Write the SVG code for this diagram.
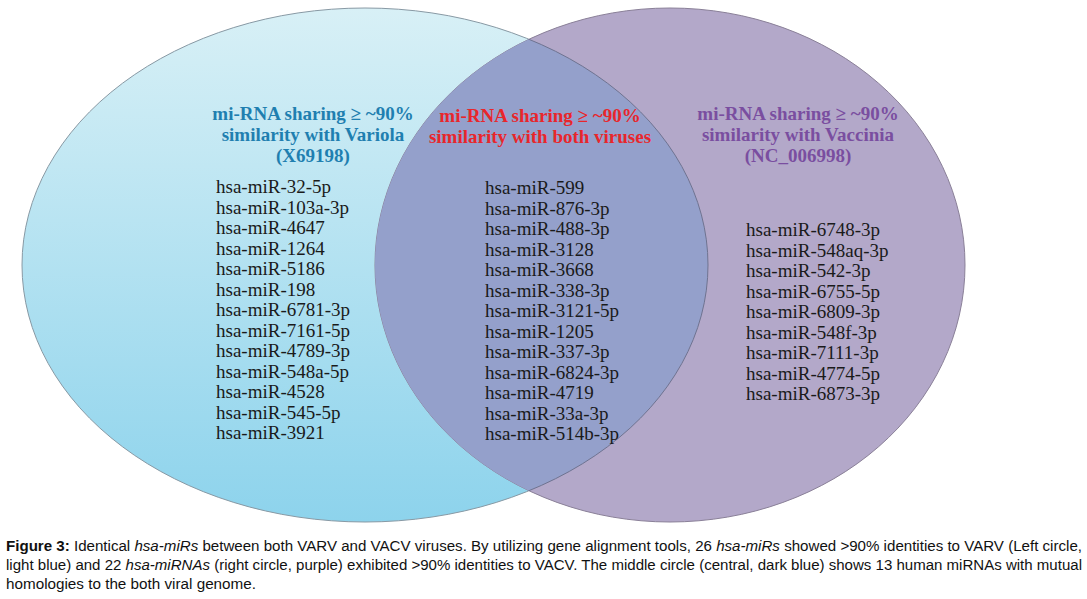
<svg xmlns="http://www.w3.org/2000/svg" width="1087" height="599" viewBox="0 0 1087 599">
<style>
.t{font-family:"Liberation Serif",serif;font-size:19px;font-weight:bold;text-anchor:middle}
.m{font-family:"Liberation Serif",serif;font-size:19px;fill:#1a1a1a}
.c{font-family:"Liberation Sans",sans-serif;font-size:14px;fill:#111}
</style>
<defs>
<linearGradient id="g" x1="0" y1="0" x2="0" y2="1"><stop offset="0" stop-color="#d8f0f6"/><stop offset="1" stop-color="#8dd3ec"/></linearGradient>
<clipPath id="cr"><ellipse cx="670" cy="265" rx="295" ry="257"/></clipPath>
</defs>
<rect width="1087" height="599" fill="#fff"/>
<g id="left"><ellipse cx="365" cy="265" rx="343" ry="257" fill="url(#g)" stroke="#8899a4" stroke-width="1"/></g>
<g id="right"><ellipse cx="670" cy="265" rx="295" ry="257" fill="#b3a8c9" stroke="#8a8098" stroke-width="1"/></g>
<g id="both"><ellipse cx="365" cy="265" rx="343" ry="257" fill="#94a0cb" stroke="#6f7390" stroke-width="1" clip-path="url(#cr)"/></g>
<g id="connectors"/>
<g id="labels-left">
<text class="t" fill="#1f7fb0"><tspan x="313" y="120">mi-RNA sharing ≥ ~90%</tspan><tspan x="313" y="141">similarity with Variola</tspan><tspan x="313" y="162">(X69198)</tspan></text>
<text class="m"><tspan x="216" y="193">hsa-miR-32-5p</tspan><tspan x="216" y="213.5">hsa-miR-103a-3p</tspan><tspan x="216" y="234">hsa-miR-4647</tspan><tspan x="216" y="254.5">hsa-miR-1264</tspan><tspan x="216" y="275">hsa-miR-5186</tspan><tspan x="216" y="295.5">hsa-miR-198</tspan><tspan x="216" y="316">hsa-miR-6781-3p</tspan><tspan x="216" y="336.5">hsa-miR-7161-5p</tspan><tspan x="216" y="357">hsa-miR-4789-3p</tspan><tspan x="216" y="377.5">hsa-miR-548a-5p</tspan><tspan x="216" y="398">hsa-miR-4528</tspan><tspan x="216" y="418.5">hsa-miR-545-5p</tspan><tspan x="216" y="439">hsa-miR-3921</tspan></text>
</g>
<g id="labels-both">
<text class="t" fill="#e8262b"><tspan x="540" y="122">mi-RNA sharing ≥ ~90%</tspan><tspan x="540" y="143">similarity with both viruses</tspan></text>
<text class="m"><tspan x="485" y="194">hsa-miR-599</tspan><tspan x="485" y="214.5">hsa-miR-876-3p</tspan><tspan x="485" y="235">hsa-miR-488-3p</tspan><tspan x="485" y="255.5">hsa-miR-3128</tspan><tspan x="485" y="276">hsa-miR-3668</tspan><tspan x="485" y="296.5">hsa-miR-338-3p</tspan><tspan x="485" y="317">hsa-miR-3121-5p</tspan><tspan x="485" y="337.5">hsa-miR-1205</tspan><tspan x="485" y="358">hsa-miR-337-3p</tspan><tspan x="485" y="378.5">hsa-miR-6824-3p</tspan><tspan x="485" y="399">hsa-miR-4719</tspan><tspan x="485" y="419.5">hsa-miR-33a-3p</tspan><tspan x="485" y="440">hsa-miR-514b-3p</tspan></text>
</g>
<g id="labels-right">
<text class="t" fill="#7a4ea0"><tspan x="798" y="120">mi-RNA sharing ≥ ~90%</tspan><tspan x="798" y="141">similarity with Vaccinia</tspan><tspan x="798" y="162">(NC_006998)</tspan></text>
<text class="m"><tspan x="746" y="236">hsa-miR-6748-3p</tspan><tspan x="746" y="256.5">hsa-miR-548aq-3p</tspan><tspan x="746" y="277">hsa-miR-542-3p</tspan><tspan x="746" y="297.5">hsa-miR-6755-5p</tspan><tspan x="746" y="318">hsa-miR-6809-3p</tspan><tspan x="746" y="338.5">hsa-miR-548f-3p</tspan><tspan x="746" y="359">hsa-miR-7111-3p</tspan><tspan x="746" y="379.5">hsa-miR-4774-5p</tspan><tspan x="746" y="400">hsa-miR-6873-3p</tspan></text>
</g>
<g id="caption">
<text class="c" x="6" y="551" textLength="1076" lengthAdjust="spacingAndGlyphs"><tspan font-weight="bold">Figure 3:</tspan> Identical <tspan font-style="italic">hsa-miRs</tspan> between both VARV and VACV viruses. By utilizing gene alignment tools, 26 <tspan font-style="italic">hsa-miRs</tspan> showed &gt;90% identities to VARV (Left circle,</text>
<text class="c" x="6" y="570" textLength="1076" lengthAdjust="spacingAndGlyphs">light blue) and 22 <tspan font-style="italic">hsa-miRNAs</tspan> (right circle, purple) exhibited &gt;90% identities to VACV. The middle circle (central, dark blue) shows 13 human miRNAs with mutual</text>
<text class="c" x="6" y="589" textLength="250" lengthAdjust="spacingAndGlyphs">homologies to the both viral genome.</text>
</g>
</svg>
